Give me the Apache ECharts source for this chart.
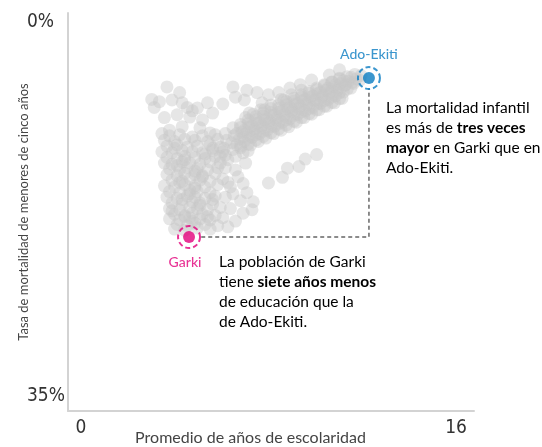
<!DOCTYPE html>
<html>
<head>
<meta charset="utf-8">
<script src="https://cdn.jsdelivr.net/npm/echarts@6/dist/echarts.min.js"></script>
<style>
html,body{margin:0;padding:0;background:#fff;}
#chart{width:542px;height:447px;}
</style>
</head>
<body>
<div id="chart"></div>
<script>
// ejes
var xMin = 0, xMax = 16;
var yMin = 0, yMax = 35;
var xName = 'Promedio de años de escolaridad';
var yName = 'Tasa de mortalidad de menores de cinco años';

// regiones (años de escolaridad, tasa %)
var upperLeftPts = [
	[3.9,6.5],[3.6,7.8],[4.1,7.65],[4.5,7.9],[5.1,8.35],[3.8,9.2],[4.3,8.95],[4.8,9.15],
	[5.3,9.4],[4.0,10.3],[4.5,10.0],[5.2,10.1],[5.6,10.55],[3.4,8.3],[4.4,7.0],[3.3,7.6],
	[4.9,8.6],[3.7,10.6],[5.7,8.8],[6.1,8.0],[5.5,7.9],[4.7,8.3]
];
var upperBandPts = [
	[6.5,6.5],[7.05,6.8],[7.45,7.0],[7.9,7.2],[8.3,7.0],[8.75,6.6],[9.15,6.3],[6.95,7.65],
	[7.65,7.9],[8.5,7.65],[9.6,5.9],[10.3,5.45],[10.7,5.0],[7.75,8.5],[7.15,8.8],[6.6,7.4],
	[7.0,9.2],[7.3,8.9],[7.6,8.5],[8.0,8.1],[8.4,7.6],[8.8,7.2],[9.2,6.8]
];
var trunkPts = [
	[4.0,10.8],[4.4,10.7],[4.9,10.9],[5.3,10.8],[5.8,10.7],
	[3.8,11.2],[4.2,11.3],[4.6,11.1],[5.0,11.2],[5.5,11.3],[5.9,11.1],
	[3.9,11.7],[4.3,11.6],[4.7,11.8],[5.1,11.7],[5.6,11.6],[6.0,11.8],
	[3.7,12.2],[4.1,12.3],[4.5,12.1],[4.9,12.2],[5.3,12.3],[5.7,12.1],[6.1,12.2],
	[3.9,12.7],[4.3,12.8],[4.6,12.6],[5.0,12.7],[5.4,12.8],[5.8,12.6],[6.3,12.9],
	[3.8,13.2],[4.1,13.3],[4.5,13.1],[4.8,13.2],[5.2,13.3],[5.6,13.1],[6.0,13.2],[7.0,13.2],
	[4.0,13.7],[4.4,13.8],[4.7,13.6],[5.1,13.7],[5.5,13.8],[6.2,13.6],[6.6,13.8],
	[3.9,14.2],[4.3,14.3],[4.6,14.1],[5.0,14.2],[5.3,14.3],[5.8,14.1],[6.7,14.4],
	[4.1,14.7],[4.5,14.8],[4.8,14.6],[5.2,14.7],[5.6,14.8],[6.1,14.6],
	[3.8,15.2],[4.2,15.3],[4.6,15.1],[5.0,15.2],[5.4,15.3],[5.9,15.1],[6.4,15.3],[6.9,15.0],
	[4.0,15.7],[4.4,15.8],[4.8,15.6],[5.1,15.7],[5.6,15.8],[6.5,15.9],
	[3.9,16.2],[4.3,16.3],[4.7,16.1],[5.0,16.2],[5.4,16.3],[5.8,16.1],[6.2,16.2],
	[4.1,16.7],[4.5,16.8],[4.9,16.6],[5.2,16.7],[5.7,16.8],[6.8,16.5],[7.3,16.6],
	[4.0,17.2],[4.4,17.3],[4.8,17.1],[5.1,17.2],[5.5,17.3],[6.0,17.1],[6.4,17.2],[7.25,17.3],
	[4.2,17.7],[4.6,17.8],[4.9,17.6],[5.3,17.7],[5.8,17.8],[6.9,17.6],
	[4.0,18.1],[4.4,18.2],[4.8,18.0],[5.2,18.1],[5.6,18.2],[6.1,18.0],[6.6,18.3],
	[4.3,18.6],[4.7,18.7],[5.0,18.5],[5.4,18.6],[5.9,18.7],
	[4.2,19.0],[4.6,19.1],[5.1,18.9],[5.6,19.0],[6.3,18.8]
];
var trunkCorePts = [
	[4.2,11.9],[4.6,12.9],[5.0,13.9],[4.4,14.9],[4.8,15.9],[5.2,16.9],[4.6,17.9],[4.3,13.4],
	[5.4,12.4],[5.0,15.4],[4.5,16.4],[5.3,14.4],[4.1,17.4],[5.5,17.9],[4.9,18.3],[5.7,11.9],
	[6.0,12.6],[5.9,13.6],[6.3,14.9],[5.7,16.4]
];
var bandPts = [
	[6.2,10.6],[6.25,11.2],[6.15,11.9],[6.2,12.5],
	[6.5,10.1],[6.55,10.8],[6.45,11.4],[6.5,12.0],[6.6,12.6],
	[6.8,9.8],[6.85,10.5],[6.75,11.1],[6.8,11.7],[6.9,12.3],
	[7.1,9.4],[7.15,10.0],[7.05,10.5],[7.1,11.0],[7.2,11.6],[7.1,12.1],
	[7.4,9.1],[7.45,9.7],[7.35,10.2],[7.4,10.7],[7.5,11.3],
	[7.7,8.8],[7.75,9.4],[7.65,9.9],[7.7,10.4],[7.8,11.0],
	[8.0,8.4],[8.05,9.0],[7.95,9.5],[8.0,10.0],[8.1,10.6],
	[8.3,8.1],[8.35,8.7],[8.25,9.2],[8.3,9.7],[8.4,10.3],
	[8.6,7.8],[8.65,8.4],[8.55,8.9],[8.6,9.4],[8.7,10.0],
	[8.9,7.5],[8.95,8.0],[8.85,8.5],[8.9,9.0],[9.0,9.6],
	[9.2,7.2],[9.25,7.7],[9.15,8.2],[9.2,8.7],[9.3,9.2],
	[9.5,6.9],[9.55,7.4],[9.45,7.9],[9.5,8.4],[9.6,8.9],
	[9.8,6.6],[9.85,7.1],[9.75,7.6],[9.8,8.0],[9.9,8.5],
	[10.1,6.3],[10.15,6.8],[10.05,7.2],[10.1,7.7],[10.2,8.2],
	[10.4,6.1],[10.45,6.5],[10.35,6.9],[10.4,7.4],[10.5,7.9],
	[10.7,5.8],[10.75,6.2],[10.65,6.6],[10.7,7.0],[10.8,7.5],
	[11.0,5.6],[11.05,6.0],[10.95,6.3],[11.0,6.7],
	[11.3,5.4],[11.35,5.8],[11.25,6.2],
	[11.55,5.5],[11.5,5.9],
	[6.9,10.9],[7.3,10.4],[7.6,10.1],[7.9,9.7],[8.2,9.4],[8.5,9.1],[8.8,8.7],[9.1,8.4],
	[9.4,8.1],[9.7,7.7],[10.0,7.4],[10.3,7.1],[10.6,6.8],[10.9,6.4],[11.2,6.1]
];
var bandCorePts = [
	[6.65,10.6],[6.65,11.6],[6.95,10.3],[6.95,11.3],[7.25,9.95],[7.25,10.95],[7.55,9.6],[7.55,10.6],
	[7.85,9.3],[7.85,10.3],[8.15,8.95],[8.15,9.95],[8.45,8.6],[8.45,9.6],[8.75,8.3],[8.75,9.3],
	[9.05,7.95],[9.05,8.95],[9.35,7.6],[9.35,8.6],[9.65,7.3],[9.65,8.3],[9.95,6.95],[9.95,7.95],
	[10.25,6.6],[10.25,7.6],[10.55,6.3],[10.55,7.3],[10.85,5.95],[10.85,6.95],[11.15,5.65],[11.15,6.6],
	[6.8,10.06],[6.8,11.86],[7.1,9.73],[7.1,11.53],[7.4,9.39],[7.4,11.19],[7.7,9.06],[7.7,10.86],
	[8.0,8.73],[8.0,10.53],[8.3,8.4],[8.3,10.2],[8.6,8.06],[8.6,9.86],[8.9,7.73],[8.9,9.53],
	[9.2,7.4],[9.2,9.2],[9.5,7.06],[9.5,8.86],[9.8,6.73],[9.8,8.53],[10.1,6.4],[10.1,8.2],
	[10.4,6.06],[10.4,7.86],[10.7,5.73],[10.7,7.53]
];
var strayPts = [
	[7.9,14.95],[8.45,14.45],[8.65,13.65],[9.1,13.5],[9.35,12.85],[9.8,12.45],[7.05,15.8]
];

// destacados
var garki = [4.77, 19.7];
var adoEkiti = [11.86, 5.72];
var connX = [5.25, 11.86, 11.86];
var connY = [19.7, 19.7, 6.65];

var pink = '#e2007a';
var blue = '#0a7cc2';
var txtFont = 'Lato, "Open Sans", sans-serif';
var numFont = '"Liberation Sans Narrow", "DejaVu Sans Condensed", Roboto, sans-serif';

var cloud = upperLeftPts.concat(upperBandPts, trunkPts, trunkCorePts, bandPts, bandCorePts, strayPts);
var conn = connX.map(function (x, i) { return [x, connY[i]]; });

var chart = echarts.init(document.getElementById('chart'));
chart.setOption({
	animation: false,
	grid: { left: 68, right: 68, top: 13, bottom: 36, outerBoundsMode: 'none', containLabel: false },
	xAxis: {
		type: 'value', min: xMin, max: xMax, interval: 16, position: 'bottom',
		name: xName, nameLocation: 'middle', nameGap: 19, nameMoveOverlap: false,
		nameTextStyle: { fontFamily: txtFont, fontSize: 16, color: '#444', padding: [0, 41, 0, 0], verticalAlign: 'top' },
		axisLine: { show: true, onZero: false, lineStyle: { color: '#d3d3d3', width: 2 } },
		axisTick: { show: false },
		splitLine: { show: false },
		axisLabel: {
			margin: 8, verticalAlign: 'top',
			formatter: function (v) { return v === xMin ? '{a|' + v + '}' : '{b|' + v + '}'; },
			rich: {
				a: { fontFamily: numFont, fontSize: 19, color: '#333', padding: [0, 0, 0, 26] },
				b: { fontFamily: numFont, fontSize: 19, color: '#333', padding: [0, 36, 0, 0] }
			}
		}
	},
	yAxis: {
		type: 'value', min: yMin, max: yMax, interval: 35, inverse: true,
		name: yName, nameLocation: 'middle', nameGap: 38, nameMoveOverlap: false,
		nameTextStyle: { fontFamily: txtFont, fontSize: 13, color: '#444' },
		axisLine: { show: true, onZero: false, lineStyle: { color: '#d3d3d3', width: 2 } },
		axisTick: { show: false },
		splitLine: { show: false },
		axisLabel: {
			margin: 41, align: 'left', verticalAlign: 'middle',
			formatter: function (v) { return v === yMin ? '{t|' + v + '%}' : '{b|' + v + '%}'; },
			rich: {
				t: { fontFamily: numFont, fontSize: 19, color: '#333', padding: [18, 0, 0, 0] },
				b: { fontFamily: numFont, fontSize: 19, color: '#333', padding: [0, 0, 29, 0] }
			}
		}
	},
	series: [
		{
			type: 'scatter', data: cloud, symbolSize: 13, silent: true, z: 1,
			itemStyle: { color: 'rgba(198,198,198,0.56)' }
		},
		{
			type: 'line', data: conn, symbol: 'none', silent: true, z: 2,
			lineStyle: { color: '#666', width: 1.5, type: [4, 3] }
		},
		{
			type: 'scatter', data: [garki], symbolSize: 22, silent: true, z: 3,
			itemStyle: { color: 'rgba(0,0,0,0)', borderColor: pink, borderWidth: 2, borderType: [5, 3] },
			label: { show: true, position: 'bottom', distance: 6, offset: [-4, 0], formatter: 'Garki',
				fontFamily: txtFont, fontSize: 14, fontWeight: 500, color: pink }
		},
		{
			type: 'scatter', data: [garki], symbolSize: 12, silent: true, z: 4,
			itemStyle: { color: pink }
		},
		{
			type: 'scatter', data: [adoEkiti], symbolSize: 22, silent: true, z: 3,
			itemStyle: { color: 'rgba(0,0,0,0)', borderColor: blue, borderWidth: 2, borderType: [5, 3] },
			label: { show: true, position: 'top', distance: 5, formatter: 'Ado-Ekiti',
				fontFamily: txtFont, fontSize: 14, fontWeight: 500, color: blue }
		},
		{
			type: 'scatter', data: [adoEkiti], symbolSize: 12, silent: true, z: 4,
			itemStyle: { color: blue }
		}
	],
	graphic: [
		{
			type: 'text', left: 386, top: 100, silent: true,
			style: {
				text: '{n|La mortalidad infantil}\n{n|es más de }{b|tres veces}\n{b|mayor}{n| en Garki que en}\n{n|Ado-Ekiti.}',
				rich: {
					n: { fontFamily: txtFont, fontSize: 15.5, color: '#555', lineHeight: 20 },
					b: { fontFamily: txtFont, fontSize: 15.5, color: '#3a3a3a', fontWeight: 'bold', lineHeight: 20 }
				}
			}
		},
		{
			type: 'text', left: 219, top: 254, silent: true,
			style: {
				text: '{n|La población de Garki}\n{n|tiene }{b|siete años menos}\n{n|de educación que la}\n{n|de Ado-Ekiti.}',
				rich: {
					n: { fontFamily: txtFont, fontSize: 15.5, color: '#555', lineHeight: 20 },
					b: { fontFamily: txtFont, fontSize: 15.5, color: '#3a3a3a', fontWeight: 'bold', lineHeight: 20 }
				}
			}
		}
	]
});
</script>
</body>
</html>
